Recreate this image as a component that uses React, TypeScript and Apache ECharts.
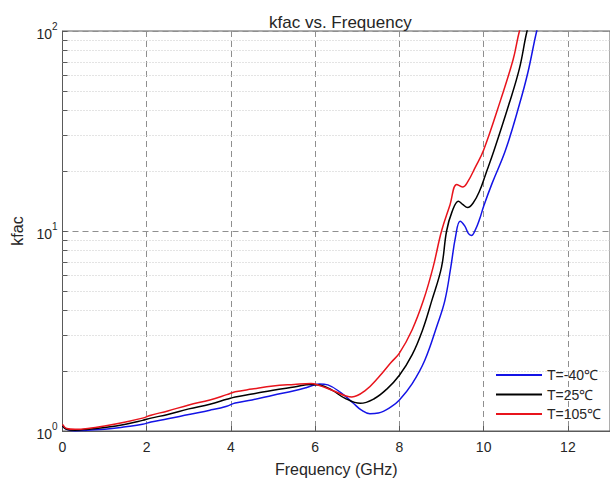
import React, { useEffect, useRef } from "react";
import * as echarts from "echarts";

const titleText = "kfac vs. Frequency";
const xName = "Frequency (GHz)";
const yName = "kfac";
const seriesNames = ["T=-40℃", "T=25℃", "T=105℃"];
const seriesColors = ["#1414e6", "#000000", "#e8141c"];

const freqBlue = [0, 0.1, 0.3, 0.6, 1.0, 1.5, 1.9, 2.1, 2.5, 3.0, 3.5, 3.9, 4.1, 4.5, 5.0, 5.5, 5.8, 6.1, 6.3, 6.6, 6.9, 7.1, 7.3, 7.5, 7.8, 8.0, 8.3, 8.6, 8.9, 9.08, 9.22, 9.33, 9.44, 9.55, 9.64, 9.71, 9.8, 9.9, 10.0, 10.2, 10.52, 10.85, 11.05, 11.26, 11.35];
const kBlue = [1.06, 1.02, 1.0, 1.01, 1.02, 1.05, 1.08, 1.11, 1.15, 1.21, 1.27, 1.33, 1.38, 1.43, 1.51, 1.59, 1.65, 1.72, 1.7, 1.56, 1.38, 1.27, 1.22, 1.23, 1.32, 1.43, 1.72, 2.25, 3.4, 4.5, 6.6, 9.3, 11.2, 10.6, 9.7, 9.5, 10.1, 11.4, 13.3, 17.3, 25.4, 43, 62, 100, 115];

const freqBlack = [0, 0.1, 0.3, 0.6, 1.0, 1.5, 1.9, 2.1, 2.5, 3.0, 3.5, 3.9, 4.1, 4.5, 5.0, 5.5, 5.9, 6.1, 6.4, 6.7, 7.07, 7.4, 7.7, 8.0, 8.3, 8.55, 8.77, 9.0, 9.12, 9.25, 9.4, 9.5, 9.62, 9.75, 9.9, 10.05, 10.25, 10.6, 10.85, 11.03, 11.15];
const kBlack = [1.06, 1.02, 1.01, 1.02, 1.04, 1.08, 1.13, 1.16, 1.21, 1.29, 1.36, 1.44, 1.48, 1.53, 1.6, 1.66, 1.71, 1.7, 1.6, 1.46, 1.375, 1.45, 1.62, 1.9, 2.4, 3.2, 4.5, 6.6, 10.0, 12.5, 14.1, 13.6, 13.1, 13.8, 15.8, 19.3, 25.4, 43, 65, 100, 120];

const freqRed = [0, 0.1, 0.3, 0.6, 1.0, 1.5, 1.9, 2.1, 2.5, 3.0, 3.5, 3.9, 4.1, 4.5, 5.0, 5.5, 5.9, 6.1, 6.4, 6.87, 7.2, 7.5, 7.8, 8.0, 8.3, 8.57, 8.8, 9.0, 9.2, 9.36, 9.5, 9.62, 9.8, 10.0, 10.4, 10.7, 10.85, 11.0];
const kRed = [1.08, 1.03, 1.02, 1.03, 1.06, 1.11, 1.16, 1.2, 1.26, 1.35, 1.43, 1.52, 1.57, 1.62, 1.68, 1.71, 1.73, 1.69, 1.6, 1.48, 1.6, 1.85, 2.2, 2.45, 3.2, 4.5, 6.6, 10, 13.5, 17.1, 16.6, 17.6, 20.8, 25.4, 45, 72, 100, 125];

const xTicks = [0, 2, 4, 6, 8, 10, 12];
const minorY = [2, 3, 4, 5, 6, 7, 8, 9, 20, 30, 40, 50, 60, 70, 80, 90];

const FONT = "'Liberation Sans', Arial, Helvetica, sans-serif";
const TXT = "#262626";
const AX = "#5a5a5a";

function pairs(xs: number[], ys: number[]) {
  return xs.map((x, i) => [x, ys[i]]);
}

export default function App() {
  const ref = useRef<HTMLDivElement>(null);
  useEffect(() => {
    if (!ref.current) return;
    const chart = echarts.init(ref.current, undefined, { renderer: "svg" });
    const dataSets = [pairs(freqBlue, kBlue), pairs(freqBlack, kBlack), pairs(freqRed, kRed)];
    const minorGrid = minorY.map((v) => ({
      yAxis: v,
      lineStyle: { type: [1, 2], color: "#c8c8c8", width: 1 },
    }));
    const minorTicks = minorY.map((v) => [
      { coord: [0, v], lineStyle: { type: "solid", color: AX, width: 1 } },
      { coord: [0.12, v] },
    ]);
    chart.setOption({
      animation: false,
      backgroundColor: "#ffffff",
      textStyle: { fontFamily: FONT },
      title: {
        text: titleText,
        left: 264,
        top: 9,
        textStyle: { fontFamily: FONT, fontSize: 17, fontWeight: "normal", color: TXT },
      },
      grid: {
        left: 62.5,
        top: 31,
        right: -2,
        bottom: 54,
        show: true,
        borderColor: AX,
        borderWidth: 1,
        containLabel: false,
      },
      legend: {
        orient: "vertical",
        left: 491,
        top: 363,
        icon: "rect",
        itemWidth: 46,
        itemHeight: 2,
        itemGap: 5.5,
        data: seriesNames,
        textStyle: { fontFamily: FONT, fontSize: 14, color: TXT, lineHeight: 14 },
        backgroundColor: "transparent",
      },
      xAxis: {
        type: "value",
        min: 0,
        max: 13,
        interval: 2,
        name: xName,
        nameLocation: "middle",
        nameGap: 30,
        nameTextStyle: { fontFamily: FONT, fontSize: 16, color: TXT },
        axisLine: { show: true, lineStyle: { color: AX, width: 1 } },
        axisTick: { show: true, inside: true, length: 5, lineStyle: { color: AX } },
        axisLabel: {
          fontFamily: FONT,
          fontSize: 14,
          color: TXT,
          margin: 9,
          showMaxLabel: false,
          formatter: (v: number) => (xTicks.includes(v) ? String(v) : ""),
        },
        splitLine: { show: true, lineStyle: { type: [6, 4], color: "#8f8f8f", width: 1 } },
      },
      yAxis: {
        type: "log",
        logBase: 10,
        min: 1,
        max: 100,
        name: yName,
        nameLocation: "middle",
        nameGap: 37,
        nameTextStyle: { fontFamily: FONT, fontSize: 16, color: TXT },
        axisLine: { show: true, lineStyle: { color: AX, width: 1 } },
        axisTick: { show: true, inside: true, length: 5, lineStyle: { color: AX } },
        axisLabel: {
          fontFamily: FONT,
          color: TXT,
          margin: 5,
          formatter: (v: number) => `{b|10}{s|${Math.round(Math.log10(v))}}`,
          rich: {
            b: { fontFamily: FONT, fontSize: 14, color: TXT, verticalAlign: "bottom" },
            s: { fontFamily: FONT, fontSize: 10, color: TXT, verticalAlign: "top", padding: [0, 0, 9, 0] },
          },
        },
        splitLine: { show: true, lineStyle: { type: [6, 4], color: "#8f8f8f", width: 1 } },
      },
      series: dataSets.map((d, i) => ({
        name: seriesNames[i],
        type: "line",
        data: d,
        symbol: "none",
        showSymbol: false,
        smooth: 0.4,
        clip: true,
        lineStyle: { color: seriesColors[i], width: 1.5 },
        itemStyle: { color: seriesColors[i] },
        z: 3,
        markLine:
          i === 0
            ? {
                silent: true,
                symbol: ["none", "none"],
                label: { show: false },
                animation: false,
                z: 1,
                data: [...minorGrid, ...minorTicks],
              }
            : undefined,
      })),
    });
    return () => chart.dispose();
  }, []);
  return (
    <div
      ref={ref}
      style={{ position: "fixed", left: 0, top: 0, width: 610, height: 485, background: "#fff" }}
    />
  );
}
